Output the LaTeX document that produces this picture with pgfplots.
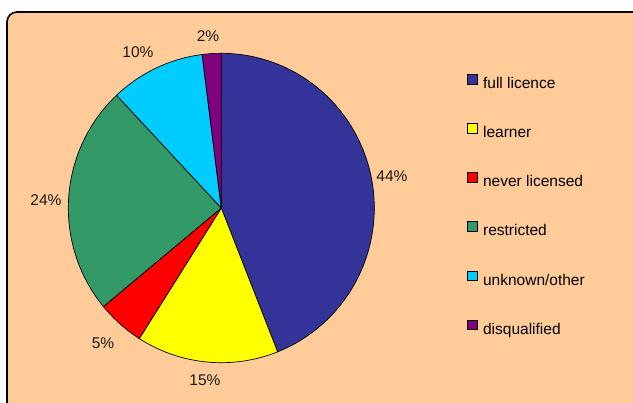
\documentclass[border=0pt]{standalone}
\usepackage{fontspec}
\setmainfont{Liberation Sans}
\usepackage{pgfplots}
\pgfplotsset{compat=1.18}
\definecolor{bgpeach}{HTML}{FFCC99}
\definecolor{cfull}{HTML}{333399}
\definecolor{clearn}{HTML}{FFFF00}
\definecolor{cnever}{HTML}{FF0000}
\definecolor{crestr}{HTML}{339966}
\definecolor{cunk}{HTML}{00CCFF}
\definecolor{cdisq}{HTML}{800080}
\newcommand{\lab}{\fontsize{15.5bp}{18bp}\selectfont}
\begin{document}
\begin{tikzpicture}
\useasboundingbox (0,0) rectangle (633bp,403bp);
\clip (0,0) rectangle (633bp,403bp);
\fill[white] (0,0) rectangle (633bp,403bp);
\begin{axis}[
  at={(0,0)}, anchor=south west,
  scale only axis, width=633bp, height=403bp,
  xmin=0, xmax=633, ymin=0, ymax=403,
  hide axis, clip=false,
  legend style={at={(axis cs:467,329)}, anchor=north west, draw=none, fill=none,
    inner sep=0pt, row sep=31.6bp, column sep=5.6bp, font=\lab,
    nodes={inner sep=0pt, text height=11bp, text depth=3bp}},
  legend cell align=left,
  legend image code/.code={\draw[#1, line width=0.8bp, draw=black] (0bp,0.6bp) rectangle (9.5bp,10.1bp);},
]
% frame
\draw[line width=1.6bp, black, fill=bgpeach, rounded corners=10bp]
  (axis cs:7,391) -- (axis cs:650,391) -- (axis cs:650,-20) -- (axis cs:7,-20) -- cycle;
% slices: x runs over the cumulative percentage
\addplot[fill=cfull, draw=black, line width=0.7bp, domain=0:44, samples=90]
  ({221.3+153*cos(90-3.6*x)}, {195+154.7*sin(90-3.6*x)}) -- (axis cs:221.3,195) -- cycle;
\addlegendentry{full licence}
\addplot[fill=clearn, draw=black, line width=0.7bp, domain=44:59, samples=40]
  ({221.3+153*cos(90-3.6*x)}, {195+154.7*sin(90-3.6*x)}) -- (axis cs:221.3,195) -- cycle;
\addlegendentry{learner}
\addplot[fill=cnever, draw=black, line width=0.7bp, domain=59:64, samples=20]
  ({221.3+153*cos(90-3.6*x)}, {195+154.7*sin(90-3.6*x)}) -- (axis cs:221.3,195) -- cycle;
\addlegendentry{never licensed}
\addplot[fill=crestr, draw=black, line width=0.7bp, domain=64:88, samples=60]
  ({221.3+153*cos(90-3.6*x)}, {195+154.7*sin(90-3.6*x)}) -- (axis cs:221.3,195) -- cycle;
\addlegendentry{restricted}
\addplot[fill=cunk, draw=black, line width=0.7bp, domain=88:98, samples=30]
  ({221.3+153*cos(90-3.6*x)}, {195+154.7*sin(90-3.6*x)}) -- (axis cs:221.3,195) -- cycle;
\addlegendentry{unknown/other}
\addplot[fill=cdisq, draw=black, line width=0.7bp, domain=98:100, samples=10]
  ({221.3+153*cos(90-3.6*x)}, {195+154.7*sin(90-3.6*x)}) -- (axis cs:221.3,195) -- cycle;
\addlegendentry{disqualified}
% percentage labels
\node[font=\lab, text=black!90] at (axis cs:392,227) {44\%};
\node[font=\lab, text=black!90] at (axis cs:205,23) {15\%};
\node[font=\lab, text=black!90] at (axis cs:103,60) {5\%};
\node[font=\lab, text=black!90] at (axis cs:46,203) {24\%};
\node[font=\lab, text=black!90] at (axis cs:138,351.3) {10\%};
\node[font=\lab, text=black!90] at (axis cs:208,367) {2\%};
\end{axis}
\end{tikzpicture}
\end{document}
